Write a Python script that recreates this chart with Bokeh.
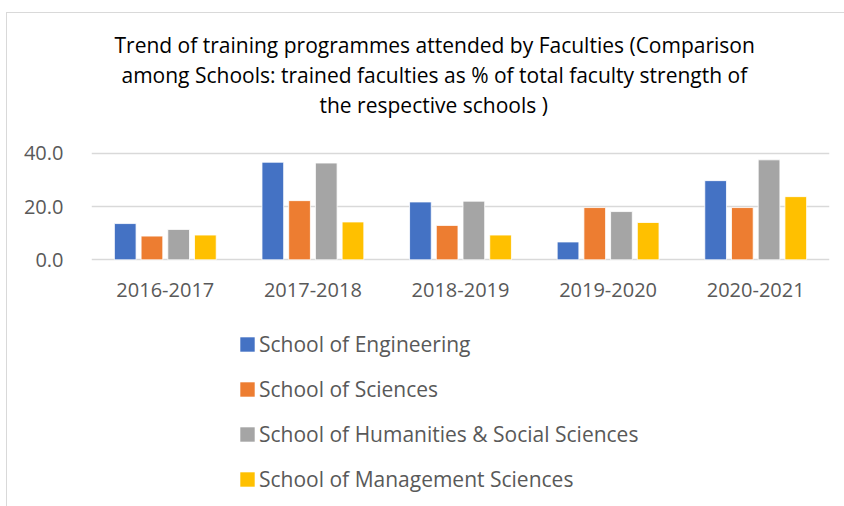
from bokeh.plotting import figure
from bokeh.layouts import column
from bokeh.models import ColumnDataSource, Range1d, Legend, LegendItem, Title, NumeralTickFormatter, FixedTicker
from bokeh.transform import dodge
from bokeh.embed import file_html
from bokeh.resources import INLINE

years = ["2016-2017", "2017-2018", "2018-2019", "2019-2020", "2020-2021"]
engineering = [13.6, 36.6, 21.7, 6.7, 29.7]
sciences = [8.9, 22.2, 12.9, 19.6, 19.6]
humanities = [11.4, 36.3, 22.0, 18.1, 37.5]
management = [9.3, 14.2, 9.3, 14.0, 23.7]
series_keys = ["eng", "sci", "hum", "man"]
series_names = ["School of Engineering", "School of Sciences",
                "School of Humanities & Social Sciences", "School of Management Sciences"]
colors = ["#4472C4", "#ED7D31", "#A5A5A5", "#FFC000"]
y_ticks = [0, 20, 40]
title_lines = ["Trend of training programmes attended by Faculties (Comparison",
               "among Schools: trained faculties as % of total faculty strength of",
               "the respective schools )"]

src = ColumnDataSource(dict(years=years, eng=engineering, sci=sciences,
                            hum=humanities, man=management))

FONT = "Open Sans"
GREY_TXT = "#595959"

# ---- chart ----
p = figure(x_range=years, y_range=Range1d(-1, 41), width=837, height=300,
           output_backend="svg", toolbar_location=None,
           min_border_left=84, min_border_right=15, min_border_top=137, min_border_bottom=51)
p.outline_line_color = None

slot = 0.181
bw = 0.147
for i, (key, c) in enumerate(zip(series_keys, colors)):
    p.vbar(x=dodge("years", (i - 1.5) * slot, range=p.x_range), top=key, bottom=0,
           width=bw, source=src, fill_color=c, line_color="white", line_width=0.8)

p.xgrid.grid_line_color = None
p.ygrid.grid_line_color = "#D9D9D9"
p.ygrid.grid_line_width = 1.5
p.yaxis.ticker = FixedTicker(ticks=y_ticks)
p.yaxis.formatter = NumeralTickFormatter(format="0.0")
for ax in (p.xaxis, p.yaxis):
    ax.axis_line_color = None
    ax.major_tick_line_color = None
    ax.minor_tick_line_color = None
    ax.major_label_text_font = FONT
    ax.major_label_text_font_size = "20px"
    ax.major_label_text_color = GREY_TXT
p.yaxis.major_label_standoff = 22
p.xaxis.major_label_standoff = 14

# spacer between title and plot area
p.add_layout(Title(text=" ", text_font_size="2px", standoff=28), "above")
offsets = [23, 30, 228]
for line, off in reversed(list(zip(title_lines, offsets))):
    p.add_layout(Title(text=line, align="left", text_font=FONT, text_font_size="21px",
                       text_font_style="normal", text_color="#000000",
                       standoff=0, offset=off), "above")

# ---- legend panel ----
q = figure(x_range=years, y_range=Range1d(0, 1), width=837, height=193,
           output_backend="svg", toolbar_location=None,
           x_axis_location=None, y_axis_location=None,
           min_border_left=0, min_border_right=0, min_border_top=0, min_border_bottom=0)
q.outline_line_color = None
q.xgrid.grid_line_color = None
q.ygrid.grid_line_color = None
leg_renderers = []
for key, c in zip(series_keys, colors):
    r = q.vbar(x="years", top=key, width=0.5, source=src, fill_color=c, line_color=None)
    r.visible = False
    leg_renderers.append(r)

items = [LegendItem(label=n, renderers=[r]) for n, r in zip(series_names, leg_renderers)]
legend = Legend(items=items, location=(147, 13), orientation="vertical",
                glyph_width=18, glyph_height=18, label_standoff=3, label_height=21,
                spacing=17, padding=0, margin=0,
                label_text_font=FONT, label_text_font_size="21px", label_text_color=GREY_TXT,
                border_line_color=None, background_fill_alpha=0, inactive_fill_alpha=0)
q.add_layout(legend, "center")

layout = column(p, q, spacing=0,
                styles={"margin-left": "6px", "margin-top": "12px",
                        "border-top": "1px solid #d9d9d9", "border-left": "1px solid #d9d9d9"})

open("out.html", "w").write(file_html(layout, INLINE))
